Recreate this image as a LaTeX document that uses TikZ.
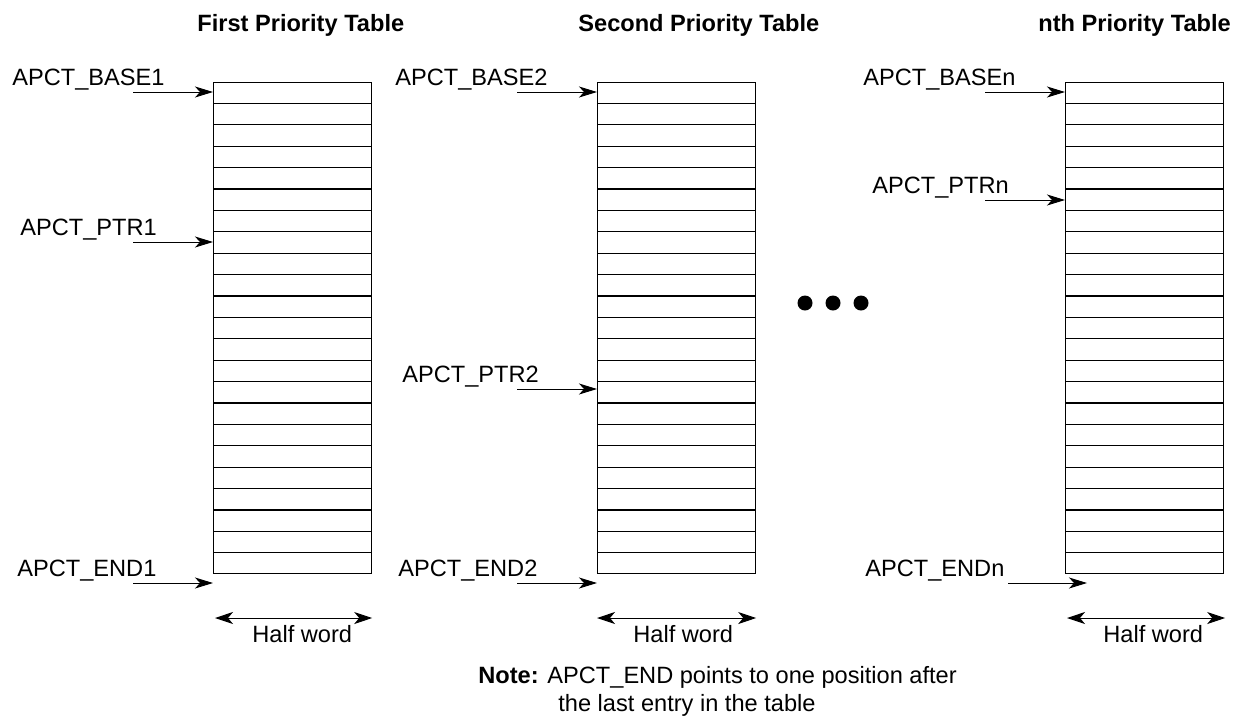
\documentclass[tikz,border=0pt]{standalone}
\usepackage{fontspec}
\setmainfont{Liberation Sans}
\usepackage{tikz}
\usetikzlibrary{
  positioning,
  arrows.meta,
  calc
}

\begin{document}
\begin{tikzpicture}[
  x=0.5pt, y=-0.5pt,
  >=Stealth,
  % --- node styles ---
  tbl/.style={
    draw=black, line width=0.6pt, inner sep=0pt, anchor=north west,
    minimum width=79pt, minimum height=245.5pt
  },
  rowline/.style={line width=0.6pt},
  lbl/.style={font=\fontsize{11.8pt}{14pt}\selectfont, inner sep=0pt, anchor=base west},
  ttl/.style={font=\fontsize{11.8pt}{14pt}\selectfont\bfseries, inner sep=0pt, anchor=base west},
  ptr/.style={-{Stealth[length=9pt, width=5.5pt, inset=2.5pt]}, line width=0.5pt},
  span/.style={{Stealth[length=9pt, width=6pt, inset=2.5pt]}-{Stealth[length=9pt, width=6pt, inset=2.5pt]}, line width=0.5pt},
  dot/.style={circle, fill=black, inner sep=0pt, minimum size=7.5pt},
]
\useasboundingbox (0,0) rectangle (1233,719);

% Row 1: titles
\node[ttl] (title1) at (197,31) {First Priority Table};
\node[ttl] (title2) at (578,31) {Second Priority Table};
\node[ttl] (titlen) at (1038,31) {nth Priority Table};

% Row 2: the tables
\node[tbl] (tab1) at (213,82) {};
\node[tbl] (tab2) at (597,82) {};
\node[tbl] (tabn) at (1065,82) {};
\foreach \t in {tab1,tab2,tabn}{
  \foreach \i in {1,...,22}{
    \draw[rowline] ($(\t.north west)!\i/23!(\t.south west)$) -- ($(\t.north east)!\i/23!(\t.south east)$);
  }
}

% Pointer labels
\node[lbl] (base1) at (12,85) {APCT\_BASE1};
\node[lbl] (ptr1) at (20,235) {APCT\_PTR1};
\node[lbl] (end1) at (17,576) {APCT\_END1};
\node[lbl] (base2) at (395,85) {APCT\_BASE2};
\node[lbl] (ptr2) at (402,382) {APCT\_PTR2};
\node[lbl] (end2) at (398,576) {APCT\_END2};
\node[lbl] (basen) at (863,85) {APCT\_BASEn};
\node[lbl] (ptrn) at (872,193) {APCT\_PTRn};
\node[lbl] (endn) at (865,576) {APCT\_ENDn};

% Arrow tails
\coordinate (base1t) at (133,92);
\coordinate (ptr1t) at (133,242);
\coordinate (end1t) at (133,583);
\coordinate (base2t) at (517,92);
\coordinate (ptr2t) at (517,389);
\coordinate (end2t) at (517,583);
\coordinate (basent) at (985,92);
\coordinate (ptrnt) at (985,200);
\coordinate (endnt) at (1008,583);

% ─── Arrows ──────────────────────────────────────────────────────────────
\draw[ptr] (base1t) -- (base1t -| tab1.west);
\draw[ptr] (ptr1t) -- (ptr1t -| tab1.west);
\draw[ptr] (end1t) -- (end1t -| tab1.west);
\draw[ptr] (base2t) -- (base2t -| tab2.west);
\draw[ptr] (ptr2t) -- (ptr2t -| tab2.west);
\draw[ptr] (end2t) -- (end2t -| tab2.west);
\draw[ptr] (basent) -- (basent -| tabn.west);
\draw[ptr] (ptrnt) -- (ptrnt -| tabn.west);
\draw[ptr] (endnt) -- ([xshift=11pt]endnt -| tabn.west);

% Width markers
\coordinate (hw1) at (215,618);
\coordinate (hw2) at (597,618);
\coordinate (hwn) at (1067,618);
\draw[span] (hw1) -- (hw1 -| tab1.east);
\draw[span] (hw2) -- (hw2 -| tab2.east);
\draw[span] (hwn) -- ([xshift=0.5pt]hwn -| tabn.east);
\node[lbl] (half1) at (252,642) {Half word};
\node[lbl] (half2) at (633,642) {Half word};
\node[lbl] (halfn) at (1103,642) {Half word};

% Ellipsis between tables
\node[dot] (dot1) at (805,303) {};
\node[dot] (dot2) at (833,303) {};
\node[dot] (dot3) at (861,303) {};

% Note
\node[lbl] (note1) at (478,683) {\textbf{Note:} APCT\_END points to one position after};
\node[lbl] (note2) at (558,711) {the last entry in the table};

\end{tikzpicture}
\end{document}
